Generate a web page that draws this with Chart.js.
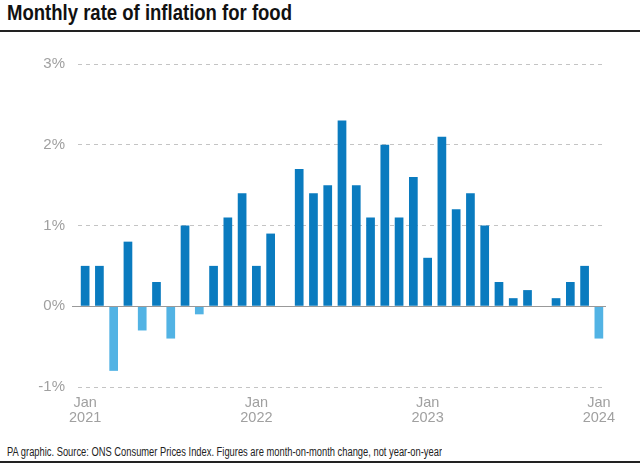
<!DOCTYPE html>
<html>
<head>
<meta charset="utf-8">
<script src="https://cdn.jsdelivr.net/npm/chart.js@4.4.1/dist/chart.umd.min.js"></script>
<style>
  html, body { margin: 0; padding: 0; background: #fff; }
  body { width: 640px; height: 465px; position: relative; overflow: hidden; font-family: "Liberation Sans", Arial, sans-serif; }
  #title { position: absolute; left: 7px; top: 0px; font-size: 22.5px; font-weight: bold; color: #111; white-space: nowrap; line-height: 26px; transform-origin: 0 0; }
  #topRule { position: absolute; left: 0; top: 30px; width: 640px; height: 2px; background: #222; }
  #footer { position: absolute; left: 7px; top: 445px; font-size: 12.5px; color: #222; white-space: nowrap; line-height: 15px; transform-origin: 0 0; }
  #bottomRule { position: absolute; left: 0; top: 461px; width: 640px; height: 2px; background: #222; }
  #wrap { position: absolute; left: 0; top: 0; width: 640px; height: 440px; }
</style>
</head>
<body>
<div id="title">Monthly rate of inflation for food</div>
<div id="topRule"></div>
<div id="wrap"><canvas id="c" width="640" height="440"></canvas></div>
<div id="footer">PA graphic. Source: ONS Consumer Prices Index. Figures are month-on-month change, not year-on-year</div>
<div id="bottomRule"></div>
<script>
// ---- Data ----
const months = [
  "Jan 2021","Feb 2021","Mar 2021","Apr 2021","May 2021","Jun 2021","Jul 2021","Aug 2021","Sep 2021","Oct 2021","Nov 2021","Dec 2021",
  "Jan 2022","Feb 2022","Mar 2022","Apr 2022","May 2022","Jun 2022","Jul 2022","Aug 2022","Sep 2022","Oct 2022","Nov 2022","Dec 2022",
  "Jan 2023","Feb 2023","Mar 2023","Apr 2023","May 2023","Jun 2023","Jul 2023","Aug 2023","Sep 2023","Oct 2023","Nov 2023","Dec 2023",
  "Jan 2024"
];
const foodInflation = [
  0.5, 0.5, -0.8, 0.8, -0.3, 0.3, -0.4, 1.0, -0.1, 0.5, 1.1, 1.4,
  0.5, 0.9, 0.0, 1.7, 1.4, 1.5, 2.3, 1.5, 1.1, 2.0, 1.1, 1.6,
  0.6, 2.1, 1.2, 1.4, 1.0, 0.3, 0.1, 0.2, 0.0, 0.1, 0.3, 0.5,
  -0.4
];
const labelledMonths = ["Jan 2021", "Jan 2022", "Jan 2023", "Jan 2024"];
const yTicks = [-1, 0, 1, 2, 3];

// ---- Styles ----
const posColor = "#0a7bbf";
const negColor = "#52b3e4";
const tickColor = "#a0a0a0";

function fitWidth(el, target) {
  const w = el.getBoundingClientRect().width;
  el.style.transform = "scaleX(" + (target / w) + ")";
}
fitWidth(document.getElementById("title"), 285);
fitWidth(document.getElementById("footer"), 435);

const zeroLine = {
  id: "zeroLine",
  afterDatasetsDraw(chart) {
    const y = chart.scales.y.getPixelForValue(0);
    const ctx = chart.ctx;
    ctx.save();
    ctx.strokeStyle = "#999";
    ctx.lineWidth = 1;
    ctx.beginPath();
    ctx.moveTo(72, Math.round(y) + 0.5);
    ctx.lineTo(chart.chartArea.right, Math.round(y) + 0.5);
    ctx.stroke();
    ctx.restore();
  }
};

new Chart(document.getElementById("c"), {
  type: "bar",
  data: {
    labels: months,
    datasets: [{
      data: foodInflation,
      backgroundColor: foodInflation.map(v => v < 0 ? negColor : posColor),
      borderWidth: 0,
      categoryPercentage: 1,
      barPercentage: 0.61
    }]
  },
  options: {
    responsive: false,
    animation: false,
    devicePixelRatio: 1,
    layout: { padding: { top: 64, right: 34, left: 0, bottom: 0 } },
    plugins: { legend: { display: false }, tooltip: { enabled: false } },
    scales: {
      x: {
        offset: true,
        grid: { display: false, drawTicks: false },
        border: { display: false },
        afterFit(scale) { scale.height = 53; },
        ticks: {
          autoSkip: false,
          maxRotation: 0,
          minRotation: 0,
          padding: 9,
          color: tickColor,
          font: { family: "'Liberation Sans', Arial, sans-serif", size: 14.5, lineHeight: 1.03 },
          callback(value) {
            const lbl = months[value];
            return labelledMonths.includes(lbl) ? lbl.split(" ") : "";
          }
        }
      },
      y: {
        min: -1,
        max: 3,
        afterFit(scale) { scale.width = 78; },
        afterBuildTicks(scale) { scale.ticks = yTicks.map(v => ({ value: v })); },
        grid: { color: "#c4c4c4", lineWidth: 1, drawTicks: false },
        border: { display: false, dash: [4, 4] },
        ticks: {
          padding: 13,
          color: tickColor,
          font: { family: "'Liberation Sans', Arial, sans-serif", size: 15 },
          callback(v) { return v + "%"; }
        }
      }
    }
  },
  plugins: [zeroLine]
});
</script>
</body>
</html>
